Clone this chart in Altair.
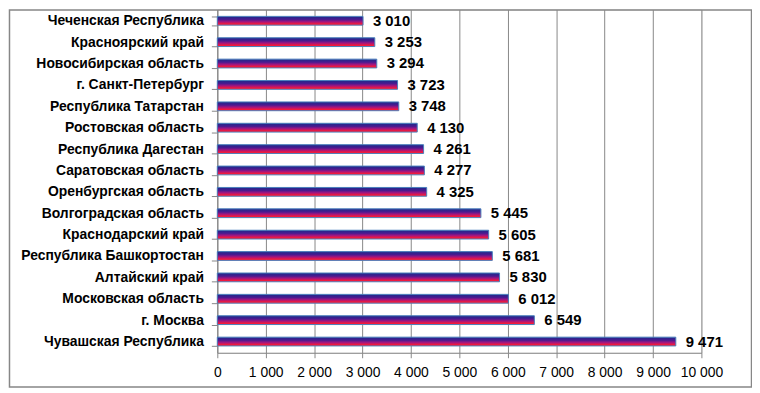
import altair as alt
import pandas as pd

regions = [
    "Чеченская Республика",
    "Красноярский край",
    "Новосибирская область",
    "г. Санкт-Петербург",
    "Республика Татарстан",
    "Ростовская область",
    "Республика Дагестан",
    "Саратовская область",
    "Оренбургская область",
    "Волгоградская область",
    "Краснодарский край",
    "Республика Башкортостан",
    "Алтайский край",
    "Московская область",
    "г. Москва",
    "Чувашская Республика",
]
values = [3010, 3253, 3294, 3723, 3748, 4130, 4261, 4277, 4325, 5445, 5605, 5681, 5830, 6012, 6549, 9471]
x_ticks = [0, 1000, 2000, 3000, 4000, 5000, 6000, 7000, 8000, 9000, 10000]

df = pd.DataFrame({"region": regions, "value": values})

FONT = "Liberation Sans"
GRAY = "#878787"

gradient = alt.Gradient(
    gradient="linear",
    x1=0, y1=0, x2=0, y2=1,
    stops=[
        alt.GradientStop(offset=0.0, color="#1C2A8A"),
        alt.GradientStop(offset=0.35, color="#4A1A90"),
        alt.GradientStop(offset=0.6, color="#A01680"),
        alt.GradientStop(offset=0.85, color="#F0183E"),
        alt.GradientStop(offset=1.0, color="#FF2232"),
    ],
)

y_enc = alt.Y(
    "region:N",
    sort=regions,
    scale=alt.Scale(paddingInner=0.59, paddingOuter=0.32),
    axis=alt.Axis(
        title=None,
        tickBand="extent",
        tickSize=6,
        tickColor=GRAY,
        domainColor=GRAY,
        labelFont=FONT,
        labelFontWeight="bold",
        labelFontSize=14,
        labelColor="black",
        labelPadding=8,
        labelOverlap=False,
        labelLimit=0,
        grid=False,
    ),
)
x_enc = alt.X(
    "value:Q",
    scale=alt.Scale(domain=[0, 10000], nice=False),
    axis=alt.Axis(
        title=None,
        values=x_ticks,
        grid=True,
        gridColor=GRAY,
        gridOpacity=1,
        tickColor=GRAY,
        tickSize=5,
        domainColor=GRAY,
        labelFont=FONT,
        labelFontSize=14,
        labelColor="black",
        labelPadding=8,
        labelOverlap=False,
        labelFlush=False,
        labelExpr="replace(format(datum.value, ','), ',', ' ')",
    ),
)

bars = alt.Chart(df).mark_bar(color=gradient, stroke="#4A7EBB", strokeWidth=1).encode(
    x=x_enc, y=y_enc
)

labels = alt.Chart(df).transform_calculate(
    lbl="replace(format(datum.value, ','), ',', ' ')"
).mark_text(
    align="left", baseline="middle", dx=10, font=FONT, fontSize=15, fontWeight="bold", color="black"
).encode(
    x="value:Q", y=alt.Y("region:N", sort=regions), text="lbl:N"
)

border = alt.Chart(pd.DataFrame({"a": [0]})).mark_rect(
    fill=None, stroke=GRAY, strokeWidth=1.5
).encode(
    x=alt.value(-209.5), x2=alt.value(538.5), y=alt.value(0.5), y2=alt.value(380.5)
)

chart = alt.layer(bars, labels, border).properties(
    width=488,
    height=346,
    padding={"left": 211, "top": 0, "right": 51, "bottom": 39},
    autosize=alt.AutoSizeParams(type="none"),
).configure_view(fill="#E9EDF6", strokeWidth=0).configure(background="white")

chart.save("out.html", embed_options={"renderer": "svg", "actions": False})
